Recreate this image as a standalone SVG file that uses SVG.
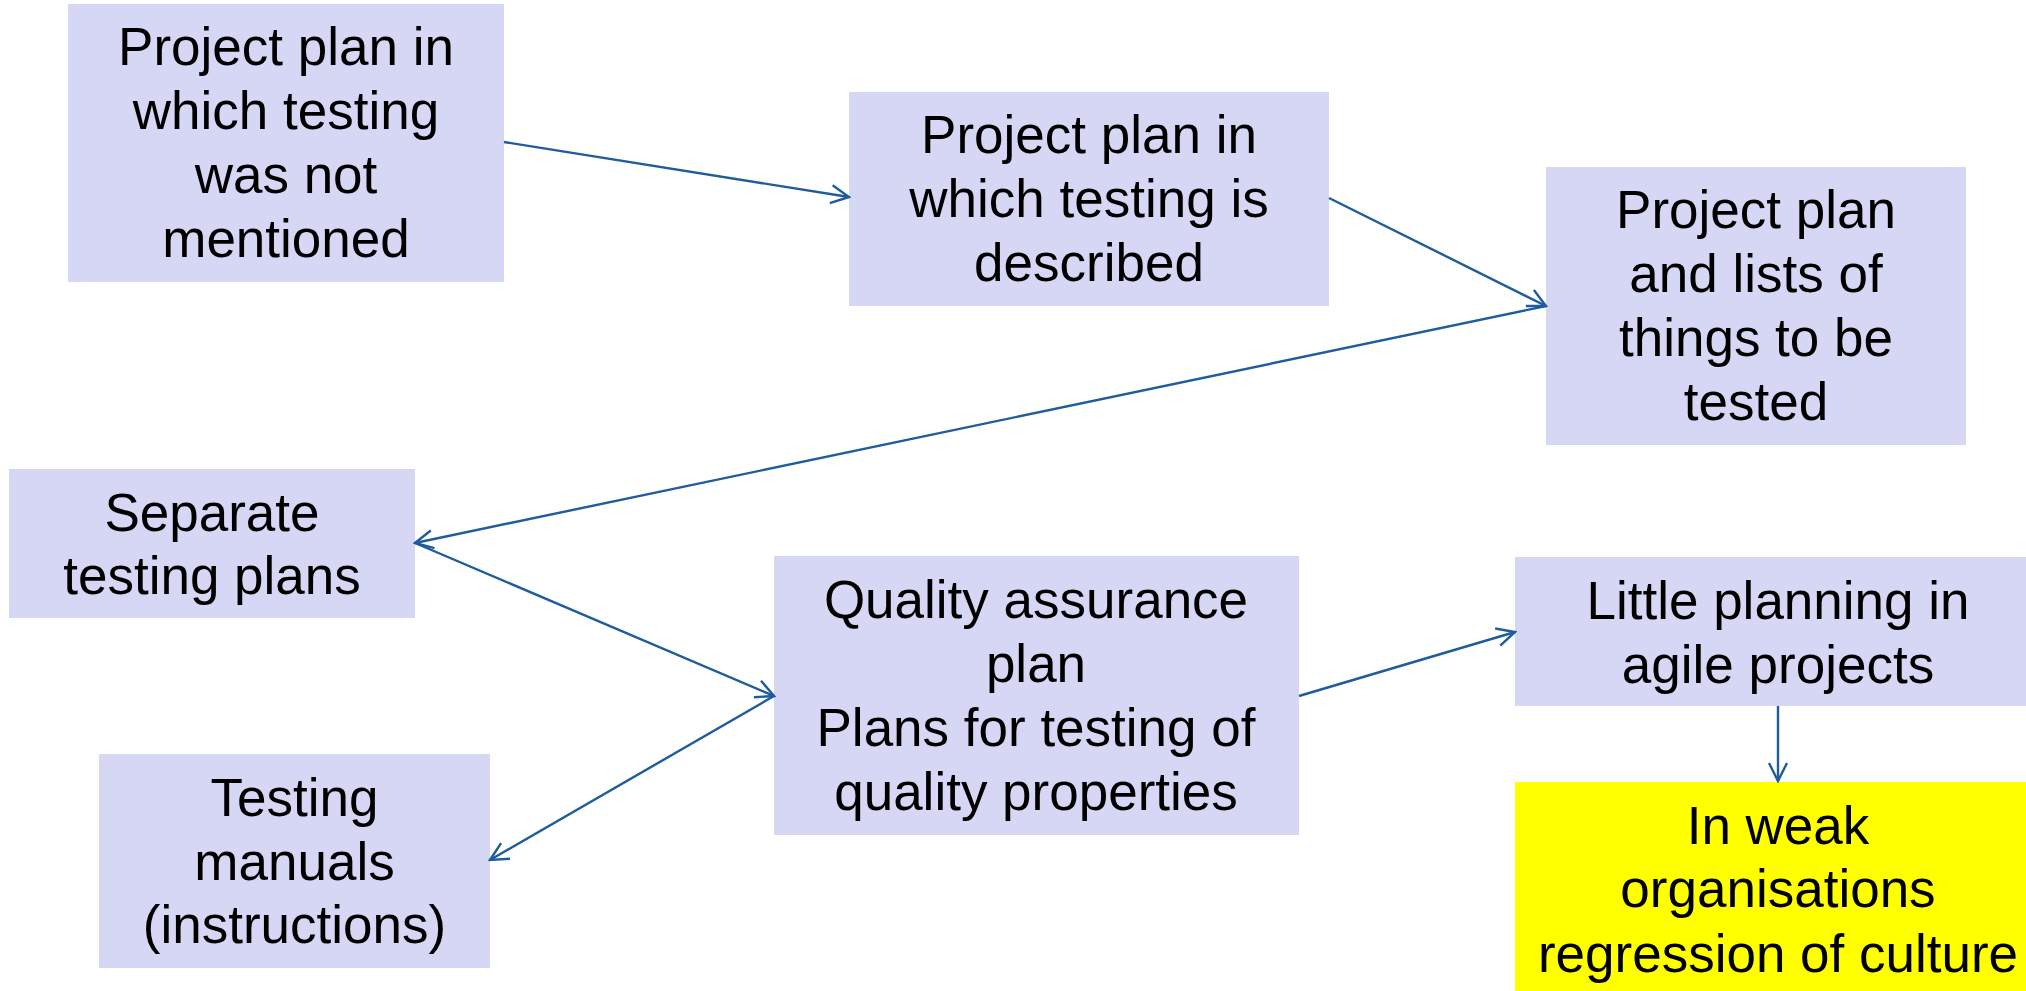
<svg xmlns="http://www.w3.org/2000/svg" width="2026" height="991" viewBox="0 0 2026 991">
<defs>
<style>
.box{fill:#D6D7F4}
.hi{fill:#FFFF00}
text{font-family:"Liberation Sans",Arial,sans-serif;font-size:53px;fill:#000;text-anchor:middle}
.c{stroke:#1F5C9C;stroke-width:2.4;fill:none}
</style>
<marker id="ah" viewBox="0 0 22 22" refX="20" refY="11" markerWidth="22" markerHeight="22" markerUnits="userSpaceOnUse" orient="auto">
<path d="M2,2 L20,11 L2,20" fill="none" stroke="#1F5C9C" stroke-width="2.4"/>
</marker>
</defs>
<rect width="2026" height="991" fill="#fff"/>
<g id="n1"><rect class="box" x="68" y="4" width="436" height="278"/>
<text x="286" y="65">Project plan in</text><text x="286" y="129">which testing</text><text x="286" y="193">was not</text><text x="286" y="257">mentioned</text></g>
<g id="n2"><rect class="box" x="849" y="92" width="480" height="214"/>
<text x="1089" y="153">Project plan in</text><text x="1089" y="217">which testing is</text><text x="1089" y="281">described</text></g>
<g id="n3"><rect class="box" x="1546" y="167" width="420" height="278"/>
<text x="1756" y="228">Project plan</text><text x="1756" y="292">and lists of</text><text x="1756" y="356">things to be</text><text x="1756" y="420">tested</text></g>
<g id="n4"><rect class="box" x="9" y="469" width="406" height="149"/>
<text x="212" y="531">Separate</text><text x="212" y="594">testing plans</text></g>
<g id="n5"><rect class="box" x="774" y="556" width="525" height="279"/>
<text x="1036" y="618">Quality assurance</text><text x="1036" y="682">plan</text><text x="1036" y="746">Plans for testing of</text><text x="1036" y="810">quality properties</text></g>
<g id="n6"><rect class="box" x="99" y="754" width="391" height="214"/>
<text x="294.5" y="816">Testing</text><text x="294.5" y="880">manuals</text><text x="294.5" y="943">(instructions)</text></g>
<g id="n7"><rect class="box" x="1515" y="557" width="530" height="149"/>
<text x="1778" y="619">Little planning in</text><text x="1778" y="683">agile projects</text></g>
<g id="n8"><rect class="hi" x="1515" y="782" width="530" height="220"/>
<text x="1778" y="844">In weak</text><text x="1778" y="907">organisations</text><text x="1778" y="972">regression of culture</text></g>
<g id="connectors">
<line class="c" x1="504" y1="142" x2="849" y2="197" marker-end="url(#ah)"/>
<line class="c" x1="1329" y1="198" x2="1546" y2="306" marker-end="url(#ah)"/>
<line class="c" x1="1546" y1="306" x2="415" y2="543" marker-end="url(#ah)"/>
<line class="c" x1="415" y1="543" x2="774" y2="696" marker-end="url(#ah)"/>
<line class="c" x1="774" y1="696" x2="490" y2="860" marker-end="url(#ah)"/>
<line class="c" x1="1299" y1="696" x2="1515" y2="632" marker-end="url(#ah)"/>
<line class="c" x1="1778" y1="706" x2="1778" y2="781" marker-end="url(#ah)"/>
</g>
</svg>
